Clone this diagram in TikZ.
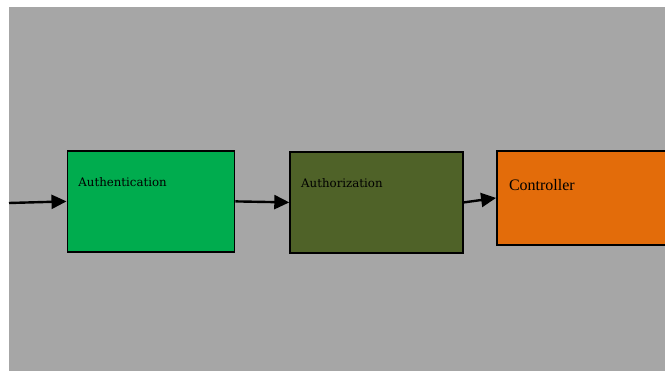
\documentclass[tikz,border=0pt]{standalone}
\usepackage{fontspec}
\setmainfont{Liberation Serif}
\newfontfamily\boxfont{DejaVu Serif}
\usepackage{tikz}
\usetikzlibrary{positioning, arrows.meta}
\definecolor{bggray}{HTML}{A6A6A6}
\definecolor{authgreen}{HTML}{00AC4E}
\definecolor{authzolive}{HTML}{4F6228}
\definecolor{ctrlorange}{HTML}{E36C0A}
\tikzset{
  stage/.style={draw, line width=1.8pt, inner sep=0pt, inner xsep=11pt, align=left,
    text height=36pt, text depth=65pt, font=\boxfont\fontsize{11.8}{13}\selectfont},
  flow/.style={line width=2.4pt, -{Triangle[length=15pt, width=14pt]}}
}

\begin{document}
\begin{tikzpicture}[x=1pt, y=-1pt]
                \useasboundingbox (0,0) rectangle (665,371);
                \fill[bggray] (9,7) rectangle (665,371);

                \node [stage, fill=authgreen, text width=145pt, anchor=north west] (auth) at (66.5,150) {Authentication};
                \node [stage, fill=authzolive, text width=151pt, right=54pt of auth, yshift=-1pt] (authz) {Authorization};
                \node [stage, fill=ctrlorange, text width=188pt, inner xsep=12pt, text height=40pt, text depth=54pt,
                       font=\fontsize{16}{18}\selectfont, right=32pt of authz, yshift=4.5pt] (ctrl) {Controller};
                \coordinate (in) at (9,203);

                \draw[flow] (in) -- (auth.west);
                \draw[flow] (auth.east) -- (authz.west);
                \draw[flow] (authz.east) -- (ctrl.west);
            \end{tikzpicture}
\end{document}
